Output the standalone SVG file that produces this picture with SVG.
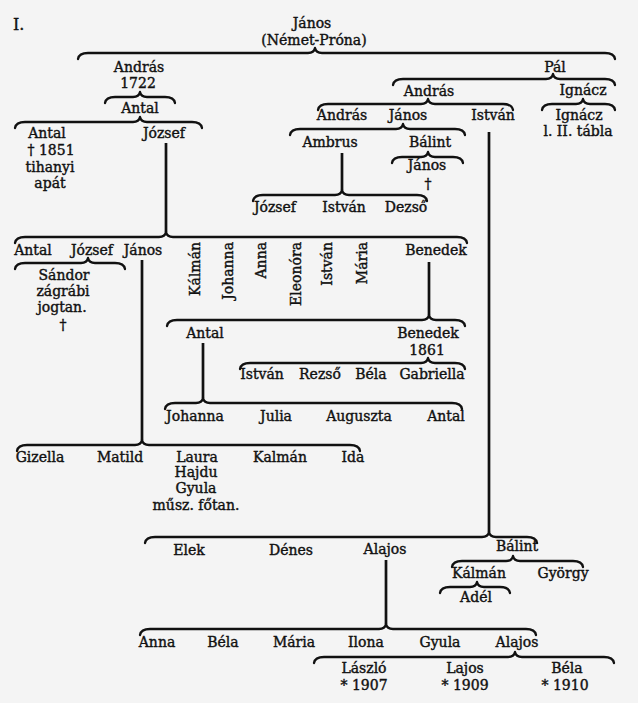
<svg xmlns="http://www.w3.org/2000/svg" width="638" height="703" viewBox="0 0 638 703">
<style>
.t{font-family:"DejaVu Serif","Liberation Serif",serif;font-size:14px;fill:#111;stroke:#111;stroke-width:0.4;text-anchor:middle}
.s{text-anchor:start}
.r{text-anchor:end}
.c{fill:none;stroke:#111;stroke-width:2.3;stroke-linecap:round;stroke-linejoin:round}
.v{fill:none;stroke:#111;stroke-width:2.7}
</style>
<rect width="638" height="703" fill="#f4f4f4"/>
<g id="connectors">
<path class="c" d="M78,59 Q79,53 88,53 L308,53 Q314,53 315,48 Q316,53 322,53 L605,53 Q614,53 615,59"/>
<path class="c" d="M393,85 Q394,79 403,79 L546,79 Q552,79 553,74 Q554,79 560,79 L605,79 Q614,79 615,85"/>
<path class="c" d="M105,103 Q106,97 115,97 L133,97 Q139,97 140,92 Q141,97 147,97 L165,97 Q174,97 175,103"/>
<path class="c" d="M318,110 Q319,104 328,104 L421,104 Q427,104 428,99 Q429,104 435,104 L503,104 Q512,104 513,110"/>
<path class="c" d="M542,110 Q543,104 552,104 L576,104 Q582,104 583,99 Q584,104 590,104 L605,104 Q614,104 615,110"/>
<path class="c" d="M15,128 Q16,122 25,122 L133,122 Q139,122 140,117 Q141,122 147,122 L192,122 Q201,122 202,128"/>
<path class="c" d="M290,135 Q291,129 300,129 L396,129 Q402,129 403,124 Q404,129 410,129 L455,129 Q464,129 465,135"/>
<path class="c" d="M392,163 Q393,157 402,157 L421,157 Q427,157 428,152 Q429,157 435,157 L453,157 Q462,157 463,163"/>
<path class="c" d="M253,201 Q254,195 263,195 L335,195 Q341,195 342,190 Q343,195 349,195 L417,195 Q426,195 427,201"/>
<path class="c" d="M15,243 Q16,237 25,237 L159,237 Q165,237 166,232 Q167,237 173,237 L457,237 Q466,237 467,243"/>
<path class="c" d="M15,269 Q16,263 25,263 L81,263 Q87,263 88,258 Q89,263 95,263 L115,263 Q124,263 125,269"/>
<path class="c" d="M167,326 Q168,320 177,320 L422,320 Q428,320 429,315 Q430,320 436,320 L455,320 Q464,320 465,326"/>
<path class="c" d="M240,369 Q241,363 250,363 L421,363 Q427,363 428,358 Q429,363 435,363 L455,363 Q464,363 465,369"/>
<path class="c" d="M165,409 Q166,403 175,403 L196,403 Q202,403 203,398 Q204,403 210,403 L452,403 Q461,403 462,409"/>
<path class="c" d="M17,451 Q18,445 27,445 L135,445 Q141,445 142,440 Q143,445 149,445 L350,445 Q359,445 360,451"/>
<path class="c" d="M145,543 Q146,537 155,537 L482,537 Q488,537 489,532 Q490,537 496,537 L527,537 Q536,537 537,543"/>
<path class="c" d="M452,567 Q453,561 462,561 L506,561 Q512,561 513,556 Q514,561 520,561 L573,561 Q582,561 583,567"/>
<path class="c" d="M440,593 Q441,587 450,587 L470,587 Q476,587 477,582 Q478,587 484,587 L500,587 Q509,587 510,593"/>
<path class="c" d="M140,635 Q141,629 150,629 L379,629 Q385,629 386,624 Q387,629 393,629 L526,629 Q535,629 536,635"/>
<path class="c" d="M314,663 Q315,657 324,657 L508,657 Q514,657 515,652 Q516,657 522,657 L604,657 Q613,657 614,663"/>
<path class="v" d="M166,143 V232"/>
<path class="v" d="M342,153 V190"/>
<path class="v" d="M489,132 V532"/>
<path class="v" d="M142,260 V440"/>
<path class="v" d="M429,262 V315"/>
<path class="v" d="M203,343 V398"/>
<path class="v" d="M386,560 V624"/>
</g>
<g id="title"><text class="t s" x="13" y="30" style="font-size:16px">I.</text></g>
<g id="janos-root"><text class="t" x="312" y="28">János</text><text class="t" x="314" y="45">(Német-Próna)</text></g>
<g id="andras-1722"><text class="t" x="139" y="72">András</text><text class="t" x="138" y="88">1722</text></g>
<g id="antal-1"><text class="t" x="140" y="113">Antal</text></g>
<g id="pal"><text class="t" x="555" y="72">Pál</text></g>
<g id="andras-2"><text class="t" x="429" y="96">András</text></g>
<g id="ignacz-1"><text class="t" x="583" y="95">Ignácz</text></g>
<g id="antal-apat"><text class="t" x="47" y="138">Antal</text><text class="t" x="51" y="155">† 1851</text><text class="t" x="50" y="172">tihanyi</text><text class="t" x="50" y="188">apát</text></g>
<g id="jozsef-1"><text class="t" x="164" y="138">József</text></g>
<g id="andras-3"><text class="t" x="342" y="120">András</text></g>
<g id="janos-2"><text class="t" x="408" y="120">János</text></g>
<g id="istvan-1"><text class="t" x="493" y="120">István</text></g>
<g id="ignacz-2"><text class="t" x="579" y="120">Ignácz</text><text class="t" x="578" y="136">l. II. tábla</text></g>
<g id="ambrus"><text class="t" x="330" y="147">Ambrus</text></g>
<g id="balint-1"><text class="t" x="430" y="147">Bálint</text></g>
<g id="janos-3"><text class="t" x="427" y="170">János</text><text class="t" x="428" y="189">†</text></g>
<g id="jozsef-2"><text class="t" x="275" y="212">József</text></g>
<g id="istvan-2"><text class="t" x="344" y="212">István</text></g>
<g id="dezso"><text class="t" x="406" y="212">Dezső</text></g>
<g id="antal-2"><text class="t" x="33" y="255">Antal</text></g>
<g id="jozsef-3"><text class="t" x="92" y="255">József</text></g>
<g id="janos-4"><text class="t" x="143" y="255">János</text></g>
<g id="kalman-1"><text class="t r" transform="translate(199.5,242) rotate(-90)">Kálmán</text></g>
<g id="johanna-1"><text class="t r" transform="translate(233,242) rotate(-90)">Johanna</text></g>
<g id="anna-1"><text class="t r" transform="translate(266,242) rotate(-90)">Anna</text></g>
<g id="eleonora"><text class="t r" transform="translate(301,242) rotate(-90)">Eleonóra</text></g>
<g id="istvan-3"><text class="t r" transform="translate(332,242) rotate(-90)">István</text></g>
<g id="maria-1"><text class="t r" transform="translate(367,242) rotate(-90)">Mária</text></g>
<g id="benedek-1"><text class="t" x="436" y="255">Benedek</text></g>
<g id="sandor"><text class="t" x="64" y="280">Sándor</text><text class="t" x="63" y="296">zágrábi</text><text class="t" x="62" y="312">jogtan.</text><text class="t" x="63" y="330">†</text></g>
<g id="antal-3"><text class="t" x="205" y="338">Antal</text></g>
<g id="benedek-2"><text class="t" x="428" y="338">Benedek</text><text class="t" x="427" y="355">1861</text></g>
<g id="istvan-4"><text class="t" x="262" y="379">István</text></g>
<g id="rezso"><text class="t" x="320" y="379">Rezső</text></g>
<g id="bela-1"><text class="t" x="371" y="379">Béla</text></g>
<g id="gabriella"><text class="t" x="432" y="379">Gabriella</text></g>
<g id="johanna-2"><text class="t" x="195" y="421">Johanna</text></g>
<g id="julia"><text class="t" x="276" y="421">Julia</text></g>
<g id="auguszta"><text class="t" x="359" y="421">Auguszta</text></g>
<g id="antal-4"><text class="t" x="446" y="421">Antal</text></g>
<g id="gizella"><text class="t" x="40" y="462">Gizella</text></g>
<g id="matild"><text class="t" x="120" y="462">Matild</text></g>
<g id="laura"><text class="t" x="197" y="462">Laura</text><text class="t" x="196" y="477">Hajdu</text><text class="t" x="196" y="493">Gyula</text><text class="t" x="196" y="510">műsz. főtan.</text></g>
<g id="kalman-2"><text class="t" x="280" y="462">Kalmán</text></g>
<g id="ida"><text class="t" x="353" y="462">Ida</text></g>
<g id="elek"><text class="t" x="189" y="555">Elek</text></g>
<g id="denes"><text class="t" x="291" y="555">Dénes</text></g>
<g id="alajos-1"><text class="t" x="385" y="554">Alajos</text></g>
<g id="balint-2"><text class="t" x="517" y="551">Bálint</text></g>
<g id="kalman-3"><text class="t" x="479" y="578">Kálmán</text></g>
<g id="gyorgy"><text class="t" x="563" y="578">György</text></g>
<g id="adel"><text class="t" x="476" y="602">Adél</text></g>
<g id="anna-2"><text class="t" x="157" y="647">Anna</text></g>
<g id="bela-2"><text class="t" x="223" y="647">Béla</text></g>
<g id="maria-2"><text class="t" x="294" y="647">Mária</text></g>
<g id="ilona"><text class="t" x="366" y="647">Ilona</text></g>
<g id="gyula"><text class="t" x="440" y="647">Gyula</text></g>
<g id="alajos-2"><text class="t" x="517" y="647">Alajos</text></g>
<g id="laszlo"><text class="t" x="364" y="673">László</text><text class="t" x="364" y="690">* 1907</text></g>
<g id="lajos"><text class="t" x="465" y="673">Lajos</text><text class="t" x="465" y="690">* 1909</text></g>
<g id="bela-3"><text class="t" x="567" y="673">Béla</text><text class="t" x="565" y="690">* 1910</text></g>
</svg>
